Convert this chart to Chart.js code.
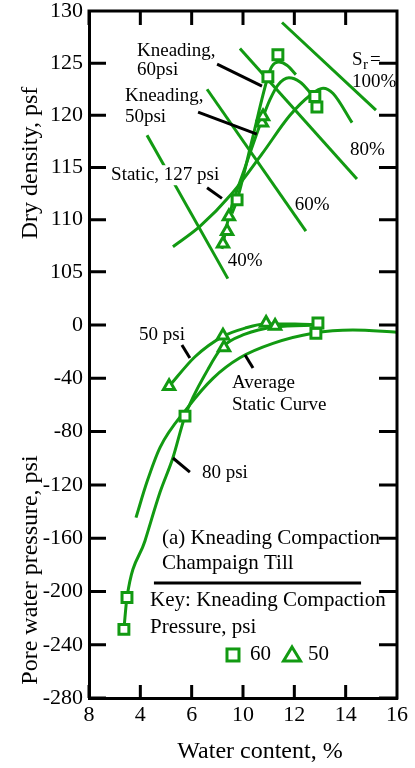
<!DOCTYPE html>
<html>
<head>
<meta charset="utf-8">
<script src="https://cdn.jsdelivr.net/npm/chart.js@4.4.0/dist/chart.umd.min.js"></script>
<style>
  html, body { margin: 0; padding: 0; background: #fff; }
</style>
</head>
<body>
<canvas id="chart" width="415" height="768"></canvas>
<script>
// tick labels, as printed on the figure
const xTickLabels = ['8', '4', '6', '10', '12', '14', '16'];
const densityTicks = [105, 110, 115, 120, 125, 130];
const pressureTicks = [-280, -240, -200, -160, -120, -80, -40, 0];

// top panel: [water content %, dry density psf]
const sat100 = [[11.52, 128.9], [15.18, 120.5]];
const sat80 = [[9.88, 126.4], [14.44, 113.9]];
const sat60 = [[8.60, 122.5], [12.45, 108.9]];
const sat40 = [[6.26, 118.1], [9.41, 104.35]];

const kneading60Curve = [[9.57, 110.6], [9.77, 111.9], [10.35, 117.6], [10.97, 123.7], [11.13, 124.7], [11.40, 125.1], [11.71, 124.8], [12.06, 123.9]];
const kneading50Curve = [[9.18, 107.2], [9.45, 110.3], [10.08, 115.0], [10.74, 119.6], [11.05, 121.5], [11.36, 122.9], [11.79, 123.6], [12.22, 123.2], [12.61, 122.2], [12.80, 121.6]];
const staticCurve = [[7.27, 107.4], [8.32, 109.35], [9.57, 112.5], [10.74, 116.3], [11.83, 120.0], [12.61, 121.9], [13.12, 122.6], [13.51, 122.1], [14.25, 119.3]];

const density60 = [[9.77, 111.9], [10.97, 123.7], [11.36, 125.8], [12.80, 121.8], [12.88, 120.8]];
const density50 = [[9.22, 107.7], [9.38, 108.9], [9.45, 110.3], [10.74, 119.3], [10.78, 119.9]];

// bottom panel: [water content %, pore water pressure psi]
const pressure50Curve = [[7.12, -46], [8.13, -23.8], [9.22, -8.5], [10.08, -2.3], [10.86, 0.8], [12.02, 0.8], [12.92, 0]];
const pressure80Curve = [[5.36, -228.5], [5.48, -204.6], [6.18, -162.1], [6.77, -125.4], [7.27, -99.6], [7.74, -68.4], [8.64, -33.1], [9.18, -16.9], [10.08, -6.9], [11.25, -1.5], [12.92, 0]];
const staticAvgCurve = [[5.83, -144.6], [6.26, -117.7], [6.77, -91.8], [7.82, -62.5], [8.83, -40], [9.88, -24.6], [11.17, -13.8], [12.73, -6.2], [14.28, -3.8], [16.0, -5.4]];

const pressure60 = [[5.36, -228.5], [5.48, -204.6], [7.74, -68.4], [12.84, -6.2], [12.92, 1.5]];
const pressure50 = [[7.12, -46], [9.22, -8], [9.26, -16.9], [10.90, 1.5], [11.25, -0.8]];

const GREEN = '#129a12';
const SERIF = '"Liberation Serif", "Times New Roman", serif';

const toXY = pts => pts.map(([x, y]) => ({ x, y }));

function curve(pts, axis, smooth) {
  return {
    data: toXY(pts),
    yAxisID: axis,
    showLine: true,
    borderColor: GREEN,
    borderWidth: 3,
    pointRadius: 0,
    cubicInterpolationMode: smooth ? 'monotone' : 'default',
    tension: 0,
    order: 2
  };
}

function marks(pts, axis, style) {
  return {
    data: toXY(pts),
    yAxisID: axis,
    showLine: false,
    pointStyle: style,
    pointRadius: style === 'rect' ? 7 : 6.5,
    pointBorderWidth: 3,
    pointBorderColor: GREEN,
    pointBackgroundColor: '#fff',
    order: 0
  };
}

// labels written on the figure, placed in data units
const topNotes = [
  ['Kneading,', 5.87, 126.2],
  ['60psi', 5.87, 124.35],
  ['Kneading,', 5.40, 121.85],
  ['50psi', 5.40, 119.8],
  ['100%', 14.25, 123.15],
  ['80%', 14.17, 116.67],
  ['60%', 12.02, 111.4],
  ['40%', 9.41, 106.0]
];
const topLeaders = [[8.99, 124.9, 10.74, 122.8], [8.25, 120.3, 10.54, 118.2], [8.60, 113.06, 9.18, 112.04]];
const smallNotes = [
  ['50 psi', 5.95, -7.5],
  ['Average', 9.57, -43.5],
  ['Static Curve', 9.57, -60],
  ['80 psi', 8.40, -111]
];
const bigNotes = [
  ['(a) Kneading Compaction', 6.84, -160],
  ['Champaign Till', 6.84, -178.7],
  ['Key: Kneading Compaction', 6.38, -206.5],
  ['Pressure, psi', 6.38, -226.7]
];
const bottomLeaders = [[7.62, -15, 7.93, -24.8], [10.08, -22.5, 10.39, -32.3], [7.27, -99.8, 7.93, -110.4], [6.53, -193.7, 14.60, -193.7]];

const frameAndTicks = {
  id: 'frameAndTicks',
  afterDraw(chart) {
    const { ctx, chartArea: a, scales } = chart;
    ctx.save();
    ctx.strokeStyle = '#000';
    ctx.lineWidth = 3;
    ctx.beginPath();
    ctx.moveTo(a.left - 1.5, a.top);
    ctx.lineTo(a.right, a.top);
    ctx.lineTo(a.right, a.bottom + 1.5);
    ['yD', 'yP'].forEach(id => {
      const s = scales[id];
      s.ticks.forEach(t => {
        const y = s.getPixelForValue(t.value);
        ctx.moveTo(a.left, y); ctx.lineTo(a.left + 17, y);
        ctx.moveTo(a.right - 18, y); ctx.lineTo(a.right, y);
      });
    });
    scales.x.ticks.forEach(t => {
      const x = scales.x.getPixelForValue(t.value);
      ctx.moveTo(x, a.bottom); ctx.lineTo(x, a.bottom - 13);
      ctx.moveTo(x, a.top); ctx.lineTo(x, a.top + 14);
    });
    ctx.stroke();

    // axis titles sit off-centre in the figure, so they are placed by hand
    ctx.fillStyle = '#000';
    ctx.font = '24px ' + SERIF;
    ctx.textAlign = 'center';
    ctx.textBaseline = 'middle';
    ctx.fillText('Water content, %', 260, 752);
    ctx.translate(31, 0);
    ctx.rotate(-Math.PI / 2);
    ctx.fillText('Dry density, psf', -163, 0);
    ctx.fillText('Pore water pressure, psi', -570, 0);
    ctx.restore();
  }
};

const notes = {
  id: 'notes',
  afterDatasetsDraw(chart) {
    const { ctx, scales: { x, yD, yP } } = chart;
    const line = (x1, y1, x2, y2, s) => {
      ctx.beginPath();
      ctx.moveTo(x.getPixelForValue(x1), s.getPixelForValue(y1));
      ctx.lineTo(x.getPixelForValue(x2), s.getPixelForValue(y2));
      ctx.stroke();
    };
    ctx.save();
    ctx.fillStyle = '#000';
    ctx.strokeStyle = '#000';
    ctx.lineWidth = 3;
    ctx.textBaseline = 'middle';
    ctx.textAlign = 'left';

    // static label breaks the 40% line
    ctx.font = '19px ' + SERIF;
    const sx = x.getPixelForValue(4.86), sy = yD.getPixelForValue(114.26);
    const sw = ctx.measureText('Static, 127 psi').width;
    ctx.fillStyle = '#fff';
    ctx.fillRect(sx - 2, sy - 10, sw + 4, 20);
    ctx.fillStyle = '#000';
    ctx.fillText('Static, 127 psi', sx, sy);

    topNotes.forEach(([t, wx, wy]) => ctx.fillText(t, x.getPixelForValue(wx), yD.getPixelForValue(wy)));
    topLeaders.forEach(([a, b, c, d]) => line(a, b, c, d, yD));

    // S_r =
    const rx = x.getPixelForValue(14.25), ry = yD.getPixelForValue(125.3);
    ctx.fillText('S', rx, ry);
    ctx.font = '15px ' + SERIF;
    ctx.fillText('r', rx + 11, ry + 5);
    ctx.font = '19px ' + SERIF;
    ctx.fillText('=', rx + 18, ry);

    smallNotes.forEach(([t, wx, wy]) => ctx.fillText(t, x.getPixelForValue(wx), yP.getPixelForValue(wy)));
    ctx.font = '21px ' + SERIF;
    bigNotes.forEach(([t, wx, wy]) => ctx.fillText(t, x.getPixelForValue(wx), yP.getPixelForValue(wy)));
    bottomLeaders.forEach(([a, b, c, d]) => line(a, b, c, d, yP));

    // key
    const ky = yP.getPixelForValue(-247.7);
    const k1 = x.getPixelForValue(9.61), k2 = x.getPixelForValue(11.91);
    ctx.fillText('60', x.getPixelForValue(10.27), ky);
    ctx.fillText('50', x.getPixelForValue(12.53), ky);
    ctx.strokeStyle = GREEN;
    ctx.strokeRect(k1 - 6, ky - 6, 12, 12);
    ctx.beginPath();
    ctx.moveTo(k2, ky - 8);
    ctx.lineTo(k2 + 8.5, ky + 6);
    ctx.lineTo(k2 - 8.5, ky + 6);
    ctx.closePath();
    ctx.stroke();
    ctx.restore();
  }
};

const tickFont = { family: SERIF, size: 22, lineHeight: 1 };

// fixed axis box; labels may overhang the plot edges
const fixLeftAxis = s => {
  s.width = 89;
  s.paddingTop = 0;
  s.paddingBottom = 0;
};

new Chart(document.getElementById('chart'), {
  type: 'scatter',
  data: {
    datasets: [
      curve(sat100, 'yD'), curve(sat80, 'yD'), curve(sat60, 'yD'), curve(sat40, 'yD'),
      curve(kneading60Curve, 'yD', true), curve(kneading50Curve, 'yD', true), curve(staticCurve, 'yD', true),
      marks(density60, 'yD', 'rect'), marks(density50, 'yD', 'triangle'),
      curve(pressure50Curve, 'yP', true), curve(pressure80Curve, 'yP', true), curve(staticAvgCurve, 'yP', true),
      marks(pressure60, 'yP', 'rect'), marks(pressure50, 'yP', 'triangle')
    ]
  },
  options: {
    responsive: false,
    animation: false,
    layout: { padding: { top: 11, right: 18, bottom: 0, left: 0 } },
    plugins: { legend: { display: false }, tooltip: { enabled: false } },
    scales: {
      x: {
        type: 'linear',
        min: 4,
        max: 16,
        ticks: { stepSize: 2, padding: 6, color: '#000', font: tickFont, callback: (v, i) => xTickLabels[i] },
        grid: { display: false, drawTicks: false },
        border: { color: '#000', width: 3 },
        afterFit: s => { s.height = 70; s.paddingLeft = 0; s.paddingRight = 0; }
      },
      yD: {
        type: 'linear',
        position: 'left',
        stack: 'panels',
        stackWeight: 289,
        weight: 1,
        min: 102.3,
        max: 130,
        afterBuildTicks: s => { s.ticks = densityTicks.map(v => ({ value: v })); },
        ticks: { padding: 6, color: '#000', font: tickFont },
        grid: { display: false, drawTicks: false },
        border: { color: '#000', width: 3 },
        afterFit: fixLeftAxis
      },
      yP: {
        type: 'linear',
        position: 'left',
        stack: 'panels',
        stackWeight: 398,
        weight: 0,
        min: -280,
        max: 18.8,
        afterBuildTicks: s => { s.ticks = pressureTicks.map(v => ({ value: v })); },
        ticks: { padding: 6, color: '#000', font: tickFont },
        grid: { display: false, drawTicks: false },
        border: { color: '#000', width: 3 },
        afterFit: fixLeftAxis
      }
    }
  },
  plugins: [frameAndTicks, notes]
});
</script>
</body>
</html>
